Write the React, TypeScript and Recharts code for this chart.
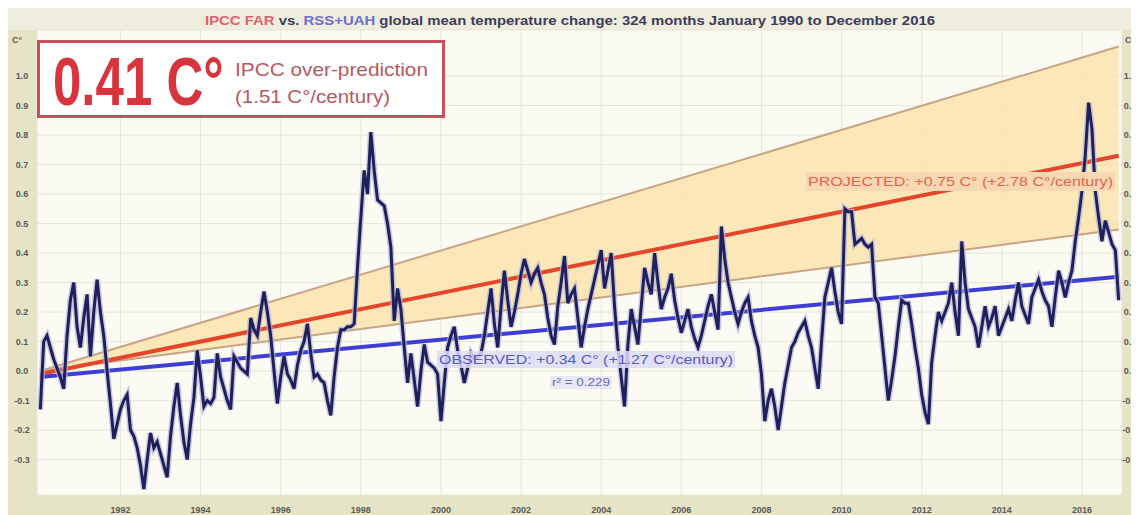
import { Area, CartesianGrid, ComposedChart, Line, XAxis, YAxis } from "recharts";

// RSS+UAH mean monthly anomaly, C°, January 1990 to December 2016
const anomaly = [
  -0.13, 0.10, 0.12, 0.08, 0.04, 0.01, -0.02, -0.06, 0.12, 0.24, 0.30, 0.15, // 1990
  0.08, 0.18, 0.26, 0.05, 0.20, 0.31, 0.20, 0.12, 0.00, -0.11, -0.23, -0.18, // 1991
  -0.13, -0.10, -0.08, -0.20, -0.22, -0.26, -0.32, -0.40, -0.30, -0.21, -0.26, -0.24, // 1992
  -0.28, -0.32, -0.36, -0.22, -0.12, -0.04, -0.15, -0.24, -0.30, -0.18, -0.09, 0.07, // 1993
  -0.02, -0.12, -0.10, -0.11, -0.09, 0.06, -0.02, -0.06, -0.10, -0.13, 0.05, 0.03, // 1994
  0.01, 0.00, -0.01, 0.18, 0.14, 0.12, 0.20, 0.27, 0.20, 0.12, 0.00, -0.11, // 1995
  -0.02, 0.05, -0.01, -0.03, -0.06, 0.02, 0.07, 0.10, 0.16, 0.06, -0.02, -0.01, // 1996
  -0.03, -0.04, -0.10, -0.15, -0.02, 0.08, 0.14, 0.14, 0.15, 0.15, 0.16, 0.35, // 1997
  0.52, 0.68, 0.60, 0.81, 0.68, 0.58, 0.57, 0.56, 0.50, 0.42, 0.17, 0.28, // 1998
  0.21, 0.08, -0.04, 0.06, -0.03, -0.12, 0.00, 0.09, 0.03, 0.02, 0.01, -0.01, // 1999
  -0.17, -0.04, 0.08, 0.12, 0.15, 0.07, 0.02, -0.04, 0.01, 0.06, 0.04, 0.05, // 2000
  0.06, 0.12, 0.20, 0.28, 0.16, 0.08, 0.22, 0.34, 0.24, 0.15, 0.20, 0.26, // 2001
  0.33, 0.38, 0.34, 0.30, 0.33, 0.35, 0.30, 0.26, 0.18, 0.12, 0.09, 0.22, // 2002
  0.30, 0.39, 0.23, 0.26, 0.28, 0.18, 0.08, 0.15, 0.21, 0.26, 0.31, 0.36, // 2003
  0.41, 0.28, 0.34, 0.40, 0.22, 0.08, -0.02, -0.12, 0.09, 0.21, 0.15, 0.09, // 2004
  0.22, 0.35, 0.30, 0.26, 0.40, 0.30, 0.21, 0.25, 0.28, 0.33, 0.24, 0.18, // 2005
  0.13, 0.17, 0.21, 0.15, 0.11, 0.08, 0.12, 0.17, 0.22, 0.26, 0.20, 0.14, // 2006
  0.49, 0.38, 0.30, 0.25, 0.20, 0.16, 0.20, 0.23, 0.25, 0.17, 0.12, 0.08, // 2007
  -0.01, -0.17, -0.10, -0.06, -0.12, -0.20, -0.12, -0.04, 0.02, 0.08, 0.10, 0.13, // 2008
  0.15, 0.17, 0.12, 0.08, 0.01, -0.06, 0.10, 0.25, 0.30, 0.35, 0.27, 0.20, // 2009
  0.16, 0.55, 0.54, 0.54, 0.43, 0.44, 0.45, 0.43, 0.42, 0.43, 0.25, 0.23, // 2010
  0.12, 0.01, -0.10, -0.03, 0.05, 0.15, 0.24, 0.23, 0.23, 0.16, 0.08, 0.01, // 2011
  -0.08, -0.14, -0.18, 0.03, 0.12, 0.20, 0.17, 0.20, 0.23, 0.30, 0.20, 0.12, // 2012
  0.44, 0.30, 0.21, 0.18, 0.15, 0.08, 0.15, 0.22, 0.15, 0.18, 0.22, 0.12, // 2013
  0.15, 0.18, 0.21, 0.17, 0.24, 0.30, 0.22, 0.19, 0.16, 0.25, 0.28, 0.31, // 2014
  0.27, 0.24, 0.22, 0.15, 0.25, 0.34, 0.30, 0.25, 0.30, 0.34, 0.44, 0.52, // 2015
  0.61, 0.73, 0.91, 0.82, 0.61, 0.52, 0.44, 0.51, 0.47, 0.43, 0.41, 0.24, // 2016
];

const startYear = 1990;
const yearTicks = [1992, 1994, 1996, 1998, 2000, 2002, 2004, 2006, 2008, 2010, 2012, 2014, 2016];
const tempTicks = [-0.3, -0.2, -0.1, 0, 0.1, 0.2, 0.3, 0.4, 0.5, 0.6, 0.7, 0.8, 0.9, 1.0];

// straight lines: value at first month, value at last month
const projectedEnds = [-0.01, 0.73];
const observedEnds = [-0.02, 0.32];
const bandLowEnds = [0, 0.48];
const bandHighEnds = [0, 1.1];

const rows = anomaly.map((t, i) => {
  const row: any = { i, t };
  const end = i === 0 ? 0 : i === anomaly.length - 1 ? 1 : -1;
  if (end >= 0) {
    row.proj = projectedEnds[end];
    row.obs = observedEnds[end];
    row.lo = bandLowEnds[end];
    row.hi = bandHighEnds[end];
    row.band = [bandLowEnds[end], bandHighEnds[end]];
  }
  return row;
});

const monthTicks = yearTicks.map((y) => (y - startYear) * 12);

const tickStyle = { fontSize: 9, fontWeight: 700, fill: "#5a5a5a" };

const LeftTick = ({ y, payload }: any) => (
  <text x={14} y={y + 3} textAnchor="middle" style={tickStyle}>
    {payload.value.toFixed(1)}
  </text>
);
const RightTick = ({ y, payload }: any) => (
  <text x={1122} y={y + 3} textAnchor="middle" style={tickStyle}>
    {payload.value.toFixed(1)}
  </text>
);
const BottomTick = ({ x, payload }: any) => (
  <text x={x} y={505} textAnchor="middle" style={tickStyle}>
    {startYear + payload.value / 12}
  </text>
);

const App = () => {
  return (
    <div
      style={{
        position: "relative",
        width: 1131,
        height: 507,
        background: "#e6e4c6",
        fontFamily: "'Liberation Sans', Arial, sans-serif",
      }}
    >
      <div style={{ position: "absolute", left: 0, top: 0, width: 1131, height: 22, background: "#efeede" }} />
      <div style={{ position: "absolute", left: 0, top: 0 }}>
        <ComposedChart width={1131} height={507} data={rows} margin={{ top: 22, right: 0, bottom: 0, left: 0 }}>
          <CartesianGrid fill="#fbfbf4" stroke="#e6e5d8" strokeWidth={1} />
          <XAxis
            dataKey="i"
            type="number"
            domain={[-1, 324]}
            ticks={monthTicks}
            height={20}
            axisLine={false}
            tickLine={false}
            tick={<BottomTick />}
            interval={0}
          />
          <YAxis
            type="number"
            domain={[-0.42, 1.156]}
            ticks={tempTicks}
            width={29}
            axisLine={false}
            tickLine={false}
            tick={<LeftTick />}
            interval={0}
            allowDataOverflow
          />
          <YAxis
            yAxisId="r"
            orientation="right"
            type="number"
            domain={[-0.42, 1.156]}
            ticks={tempTicks}
            width={17}
            axisLine={false}
            tickLine={false}
            tick={<RightTick />}
            interval={0}
            allowDataOverflow
          />
          <Area
            dataKey="band"
            type="linear"
            connectNulls
            fill="#fbe3ad"
            fillOpacity={0.85}
            stroke="none"
            isAnimationActive={false}
          />
          <Line dataKey="hi" type="linear" connectNulls stroke="#c9a384" strokeWidth={2} dot={false} isAnimationActive={false} />
          <Line dataKey="lo" type="linear" connectNulls stroke="#c9a384" strokeWidth={2} dot={false} isAnimationActive={false} />
          <Line dataKey="proj" type="linear" connectNulls stroke="#e4462c" strokeWidth={4} dot={false} isAnimationActive={false} />
          <Line dataKey="obs" type="linear" connectNulls stroke="#3d3fd2" strokeWidth={4} dot={false} isAnimationActive={false} />
          <Line dataKey="t" type="linear" stroke="#b4b4d6" strokeOpacity={0.7} strokeWidth={6} dot={false} isAnimationActive={false} />
          <Line dataKey="t" type="linear" stroke="#1f1f5c" strokeWidth={3} dot={false} isAnimationActive={false} />
        </ComposedChart>
      </div>
      <svg
        width={1131}
        height={507}
        style={{ position: "absolute", left: 0, top: 0, pointerEvents: "none" }}
      >
        <text x={562} y={17} textAnchor="middle" textLength={730} lengthAdjust="spacingAndGlyphs" style={{ fontSize: 12, fontWeight: 700 }}>
          <tspan fill="#e0606c">IPCC FAR</tspan>
          <tspan fill="#3c3c5c"> vs. </tspan>
          <tspan fill="#6c6cd4">RSS+UAH</tspan>
          <tspan fill="#3c3c5c"> global mean temperature change: 324 months January 1990 to December 2016</tspan>
        </text>

        <text x={9} y={35} textAnchor="middle" style={tickStyle}>C°</text>
        <text x={1122} y={35} textAnchor="middle" style={tickStyle}>C°</text>

        <rect x={30.5} y={33.5} width={405} height={75} fill="#ffffff" stroke="#c9505c" strokeWidth={3} />
        <g transform="translate(45 97) scale(0.75 1)">
          <text x={0} y={0} fill="#d8343e" style={{ fontSize: 68, fontWeight: 700 }}>
            0.41 C°
          </text>
        </g>
        <text x={227} y={68} textLength={193} lengthAdjust="spacingAndGlyphs" fill="#b85860" style={{ fontSize: 19 }}>
          IPCC over-prediction
        </text>
        <text x={227} y={95} textLength={155} lengthAdjust="spacingAndGlyphs" fill="#b85860" style={{ fontSize: 19 }}>
          (1.51 C°/century)
        </text>

        <rect x={798} y={164} width={309} height={19} fill="#f8d8b2" />
        <text x={800} y={178} textLength={305} lengthAdjust="spacingAndGlyphs" fill="#e0664e" style={{ fontSize: 13 }}>
          PROJECTED: +0.75 C° (+2.78 C°/century)
        </text>

        <rect x={429} y={343} width={298} height={17} fill="#dcdcf6" fillOpacity={0.85} />
        <text x={431} y={356} textLength={294} lengthAdjust="spacingAndGlyphs" fill="#5858c8" style={{ fontSize: 13 }}>
          OBSERVED: +0.34 C° (+1.27 C°/century)
        </text>
        <rect x={542} y={368} width={62} height={13} fill="#e4e4f6" fillOpacity={0.85} />
        <text x={544} y={378} textLength={58} lengthAdjust="spacingAndGlyphs" fill="#6a6ab8" style={{ fontSize: 11 }}>
          r² = 0.229
        </text>
      </svg>
    </div>
  );
};

export default App;
